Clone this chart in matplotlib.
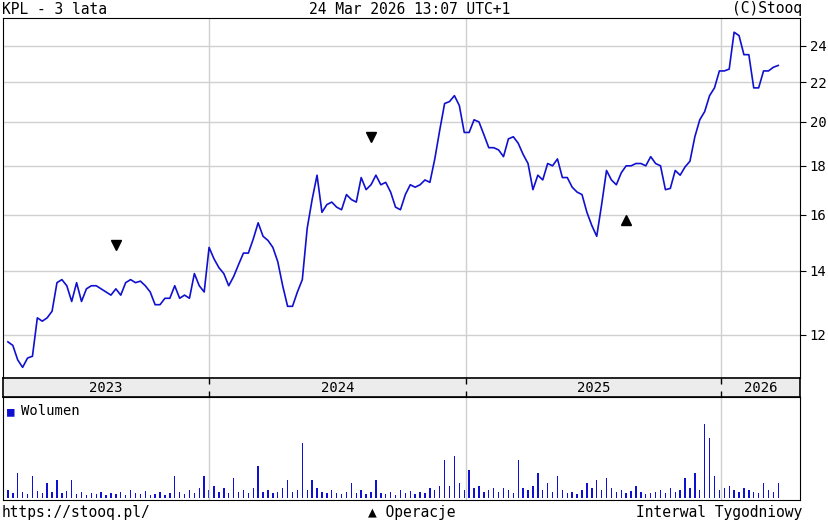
import numpy as np
import matplotlib
matplotlib.use("Agg")
import matplotlib.pyplot as plt
import matplotlib.dates as mdates
import datetime as dt

plt.rcParams['font.family'] = ['DejaVu Sans Mono']

end_date = dt.date(2026, 3, 23)
prices = [11.8, 11.7, 11.3, 11.1, 11.35, 11.4, 12.5, 12.4, 12.5, 12.7,
          13.6, 13.7, 13.5, 13.0, 13.6, 13.0, 13.4, 13.5, 13.5, 13.4,
          13.3, 13.2, 13.4, 13.2, 13.6, 13.7, 13.6, 13.65, 13.5, 13.3,
          12.9, 12.9, 13.1, 13.1, 13.5, 13.1, 13.2, 13.1, 13.9, 13.5,
          13.3, 14.8, 14.4, 14.1, 13.9, 13.5, 13.8, 14.2, 14.6, 14.6,
          15.1, 15.7, 15.2, 15.05, 14.8, 14.3, 13.5, 12.85, 12.85, 13.3,
          13.7, 15.5, 16.6, 17.6, 16.1, 16.4, 16.5, 16.3, 16.2, 16.8,
          16.6, 16.5, 17.5, 17.0, 17.2, 17.6, 17.2, 17.3, 16.9, 16.3,
          16.2, 16.8, 17.2, 17.1, 17.2, 17.4, 17.3, 18.3, 19.6, 20.9,
          21.0, 21.3, 20.8, 19.5, 19.5, 20.1, 20.0, 19.4, 18.8, 18.8,
          18.7, 18.4, 19.2, 19.3, 19.0, 18.5, 18.1, 17.0, 17.6, 17.4,
          18.1, 18.0, 18.3, 17.5, 17.5, 17.1, 16.9, 16.8, 16.1, 15.6,
          15.2, 16.4, 17.8, 17.4, 17.2, 17.7, 18.0, 18.0, 18.1, 18.1,
          18.0, 18.4, 18.1, 18.0, 17.0, 17.05, 17.8, 17.6, 17.95, 18.2,
          19.3, 20.1, 20.5, 21.3, 21.7, 22.6, 22.6, 22.7, 24.8, 24.6,
          23.5, 23.5, 21.7, 21.7, 22.6, 22.6, 22.8, 22.9]
volume = [8, 5, 25, 6, 4, 22, 7, 5, 15, 6,
          18, 5, 7, 18, 4, 6, 3, 5, 4, 6,
          3, 5, 4, 6, 3, 8, 5, 4, 7, 3,
          4, 6, 3, 5, 22, 6, 4, 8, 5, 10,
          22, 8, 12, 6, 10, 5, 20, 6, 8, 5,
          10, 32, 6, 8, 5, 6, 10, 18, 6, 8,
          55, 8, 18, 10, 6, 5, 8, 5, 4, 6,
          15, 5, 8, 4, 6, 18, 5, 4, 6, 3,
          8, 5, 7, 4, 6, 5, 10, 8, 12, 38,
          12, 42, 15, 8, 28, 10, 12, 6, 8, 10,
          6, 10, 8, 5, 38, 10, 8, 12, 25, 8,
          15, 6, 22, 8, 5, 6, 4, 8, 15, 10,
          18, 8, 20, 10, 6, 8, 5, 7, 12, 6,
          4, 5, 6, 8, 5, 10, 6, 8, 20, 10,
          25, 8, 74, 60, 22, 8, 10, 12, 8, 6,
          10, 8, 6, 5, 15, 8, 6, 15]
down_marker_idx = [22, 74]
down_marker_val = [14.9, 19.3]
up_marker_idx = [126]
up_marker_val = [15.8]
yticks = [12, 14, 16, 18, 20, 22, 24]
years = [2023, 2024, 2025, 2026]

n = len(prices)
dates = [end_date - dt.timedelta(weeks=n - 1 - i) for i in range(n)]
xd = mdates.date2num(dates)
x0 = mdates.date2num(dt.date(2023, 3, 13))
x1 = mdates.date2num(dt.date(2026, 4, 23))
ybounds = [mdates.date2num(dt.date(y, 1, 1)) for y in years]

W, H = 829, 527
fig = plt.figure(figsize=(W/100, H/100), dpi=100)
blue = '#1010d0'
gridc = '#d0d0d0'

ax = fig.add_axes([3/W, 1-378/H, 797/W, 360/H])
ax.plot(xd, prices, color=blue, lw=1.2)
ax.set_yscale('log')
ax.set_ylim(10.82, 25.66)
ax.set_xlim(x0, x1)
ax.yaxis.tick_right()
ax.set_yticks(yticks)
ax.set_yticklabels([str(t) for t in yticks], fontsize=10)
ax.yaxis.set_minor_locator(matplotlib.ticker.NullLocator())
ax.tick_params(axis='y', length=4, pad=3)
ax.set_xticks(ybounds[1:])
ax.set_xticklabels([])
ax.tick_params(axis='x', length=0)
ax.grid(True, color=gridc, lw=1)
ax.plot([xd[i] for i in down_marker_idx], down_marker_val, 'v', color='black', ms=7)
ax.plot([xd[i] for i in up_marker_idx], up_marker_val, '^', color='black', ms=7)
for s in ax.spines.values():
    s.set_color('black')

axb = fig.add_axes([3/W, 1-397/H, 797/W, 19/H])
axb.set_facecolor('#ececec')
axb.set_xlim(x0, x1)
axb.set_ylim(0, 1)
axb.set_xticks(ybounds[1:]); axb.set_xticklabels([])
axb.set_yticks([])
axb.tick_params(axis='x', direction='in', length=4, width=1, top=True, bottom=True)
for s in axb.spines.values():
    s.set_linewidth(1.2)
edges = [x0] + ybounds[1:] + [x1]
for i, y in enumerate(years):
    axb.text((edges[i] + edges[i+1]) / 2, 0.45, str(y), ha='center', va='center', fontsize=10)

axv = fig.add_axes([3/W, 1-500/H, 797/W, 103/H])
axv.bar(xd, volume, width=2.0, color=blue, bottom=0)
axv.set_xlim(x0, x1)
axv.set_ylim(-2, 101)
axv.set_xticks(ybounds[1:]); axv.set_xticklabels([])
axv.set_yticks([])
axv.tick_params(axis='x', length=0)
axv.grid(True, axis='x', color=gridc, lw=1)
axv.text(0.005, 0.86, '■', color=blue, transform=axv.transAxes, fontsize=9, va='center')
axv.text(0.022, 0.86, 'Wolumen', transform=axv.transAxes, fontsize=10, va='center')

fs = 10.5
fig.text(2/W, 1-9/H, 'KPL - 3 lata', fontsize=fs, va='center')
fig.text(410/W, 1-9/H, '24 Mar 2026 13:07 UTC+1', fontsize=fs, va='center', ha='center')
fig.text(802/W, 1-9/H, '(C)Stooq', fontsize=fs, va='center', ha='right')
fig.text(2/W, 1-513/H, 'https://stooq.pl/', fontsize=fs, va='center')
fig.text(412/W, 1-513/H, '▲ Operacje', fontsize=fs, va='center', ha='center')
fig.text(802/W, 1-513/H, 'Interwal Tygodniowy', fontsize=fs, va='center', ha='right')

fig.savefig('out.png', dpi=100)
